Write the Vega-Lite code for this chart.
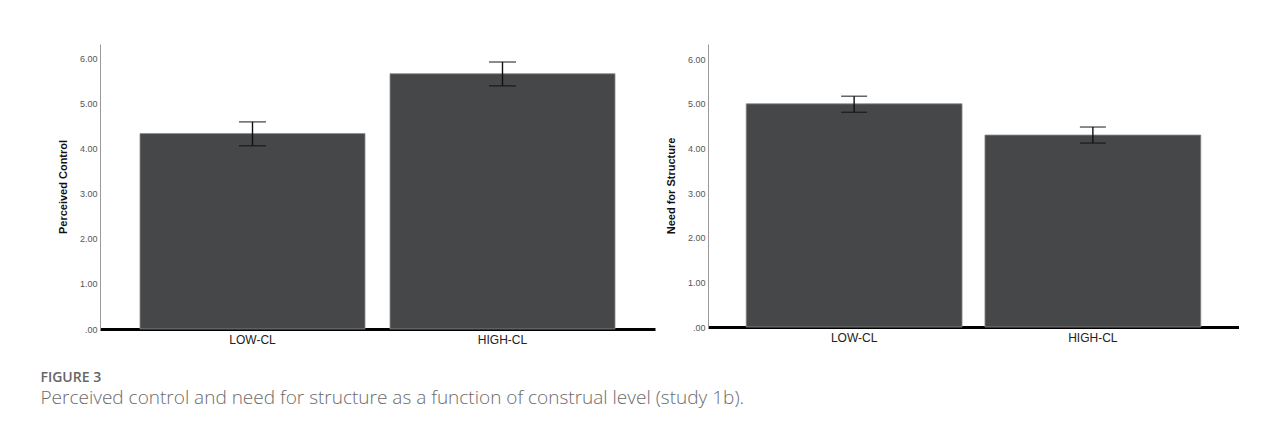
{
  "$schema": "https://vega.github.io/schema/vega-lite/v6.json",
  "padding": {"left": 40, "top": 44, "right": 0, "bottom": 20},
  "background": "white",
  "spacing": 10,
  "config": {"view": {"stroke": null}},
  "title": {
    "text": "FIGURE 3",
    "subtitle": "Perceived control and need for structure as a function of construal level (study 1b).",
    "orient": "bottom",
    "anchor": "start",
    "dx": -17,
    "offset": 26,
    "font": "Open Sans",
    "fontSize": 14,
    "fontWeight": 600,
    "color": "#666666",
    "subtitleFont": "Open Sans",
    "subtitleFontSize": 19,
    "subtitleFontWeight": 300,
    "subtitleColor": "#6b6b6b",
    "subtitlePadding": 4
  },
  "hconcat": [
    {
      "width": 555,
      "height": 285,
      "data": {"values": [
        {"level": "LOW-CL", "mean": 4.34, "lo": 4.07, "hi": 4.60},
        {"level": "HIGH-CL", "mean": 5.67, "lo": 5.40, "hi": 5.93}
      ]},
      "encoding": {
        "x": {
          "field": "level", "type": "nominal", "sort": ["LOW-CL", "HIGH-CL"],
          "scale": {"paddingInner": 0.1, "paddingOuter": 0.16},
          "axis": {"title": null, "labelAngle": 0, "ticks": false, "domainColor": "#000000", "domainWidth": 3,
                   "labelFont": "Liberation Sans", "labelFontSize": 12, "labelColor": "#222222", "labelPadding": 5}
        }
      },
      "layer": [
        {
          "mark": {"type": "bar", "fill": "#464749", "stroke": "#8a8a8a", "strokeWidth": 0.8},
          "encoding": {
            "y": {
              "field": "mean", "type": "quantitative", "scale": {"domain": [0, 6.33], "nice": false},
              "axis": {"title": "Perceived Control", "values": [0, 1, 2, 3, 4, 5, 6], "grid": false, "ticks": false,
                       "domainColor": "#999999", "domainWidth": 1,
                       "labelExpr": "datum.value == 0 ? '.00' : format(datum.value, '.2f')",
                       "labelFont": "Liberation Sans", "labelFontSize": 9, "labelColor": "#555555", "labelPadding": 3,
                       "titleFont": "Liberation Sans", "titleFontSize": 11, "titleFontWeight": "bold", "titleColor": "#111111", "titlePadding": 11}
            }
          }
        },
        {
          "mark": {"type": "errorbar", "ticks": true, "size": 27, "thickness": 1.4, "color": "#111111"},
          "encoding": {
            "y": {"field": "lo", "type": "quantitative", "title": "Perceived Control"},
            "y2": {"field": "hi"}
          }
        }
      ]
    },
    {
      "width": 531,
      "height": 283,
      "data": {"values": [
        {"level": "LOW-CL", "mean": 5.00, "lo": 4.81, "hi": 5.17},
        {"level": "HIGH-CL", "mean": 4.30, "lo": 4.12, "hi": 4.48}
      ]},
      "encoding": {
        "x": {
          "field": "level", "type": "nominal", "sort": ["LOW-CL", "HIGH-CL"],
          "scale": {"paddingInner": 0.096, "paddingOuter": 0.16},
          "axis": {"title": null, "labelAngle": 0, "ticks": false, "domainColor": "#000000", "domainWidth": 3,
                   "labelFont": "Liberation Sans", "labelFontSize": 12, "labelColor": "#222222", "labelPadding": 5}
        }
      },
      "layer": [
        {
          "mark": {"type": "bar", "fill": "#464749", "stroke": "#8a8a8a", "strokeWidth": 0.8},
          "encoding": {
            "y": {
              "field": "mean", "type": "quantitative", "scale": {"domain": [0, 6.34], "nice": false},
              "axis": {"title": "Need for Structure", "values": [0, 1, 2, 3, 4, 5, 6], "grid": false, "ticks": false,
                       "domainColor": "#999999", "domainWidth": 1,
                       "labelExpr": "datum.value == 0 ? '.00' : format(datum.value, '.2f')",
                       "labelFont": "Liberation Sans", "labelFontSize": 9, "labelColor": "#555555", "labelPadding": 3,
                       "titleFont": "Liberation Sans", "titleFontSize": 11, "titleFontWeight": "bold", "titleColor": "#111111", "titlePadding": 11}
            }
          }
        },
        {
          "mark": {"type": "errorbar", "ticks": true, "size": 26, "thickness": 1.4, "color": "#111111"},
          "encoding": {
            "y": {"field": "lo", "type": "quantitative", "title": "Need for Structure"},
            "y2": {"field": "hi"}
          }
        }
      ]
    }
  ]
}
